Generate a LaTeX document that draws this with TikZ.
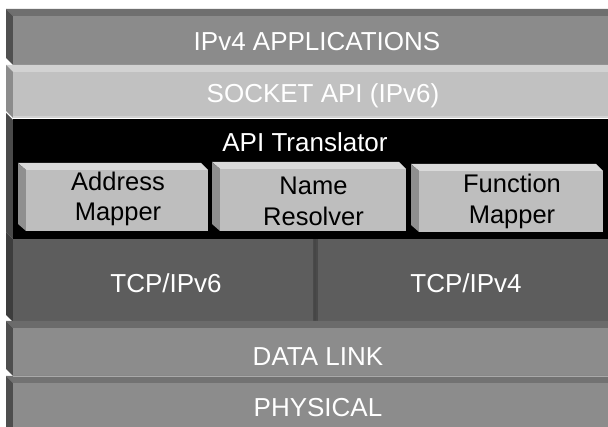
\documentclass[tikz,border=0pt]{standalone}
\usepackage{fontspec}
\setmainfont{Liberation Sans}
\definecolor{appfront}{HTML}{8B8B8B}
\definecolor{apptop}{HTML}{6F6F6F}
\definecolor{appside}{HTML}{505050}
\definecolor{sockfront}{HTML}{C1C1C1}
\definecolor{socktop}{HTML}{D2D2D2}
\definecolor{sockside}{HTML}{8C8C8C}
\definecolor{transside}{HTML}{4A4A4A}
\definecolor{tcpfront}{HTML}{5D5D5D}
\definecolor{tcpside}{HTML}{3D3D3D}
\definecolor{tcpline}{HTML}{4A4A4A}
\definecolor{linkfront}{HTML}{8C8C8C}
\definecolor{linktop}{HTML}{6B6B6B}
\definecolor{linkside}{HTML}{4E4E4E}
\definecolor{phystop}{HTML}{727272}
\definecolor{edgelight}{HTML}{A9A9A9}
\definecolor{keyfront}{HTML}{BEBEBE}
\definecolor{keytop}{HTML}{DADADA}
\definecolor{keyside}{HTML}{8F8F8F}
% one bevelled layer of the stack: front top, front bottom, front/top/side colours
\newcommand\stackslab[5]{%
  \fill[#4] (6,#1-7) -- (608,#1-7) -- (608,#1) -- (13,#1) -- cycle;
  \fill[#5] (6,#1-7) -- (13,#1) -- (13,#2) -- (6,#2-7) -- cycle;
  \fill[#3] (13,#1) rectangle (608,#2);
}
% one bevelled key inside the translator: x1, y1, x2, y2 of the outline
\newcommand\keyslab[4]{%
  \fill[keytop] (#1,#2) -- (#3-7,#2) -- (#3,#2+7) -- (#1+8,#2+7) -- cycle;
  \fill[keyside] (#1,#2) -- (#1+8,#2+7) -- (#1+8,#4) -- (#1,#4-7) -- cycle;
  \fill[keyfront] (#1+8,#2+7) rectangle (#3,#4);
}
\begin{document}
\begin{tikzpicture}[x=1pt,y=-1pt,
  layertext/.style={text=white,font=\fontsize{26}{30}\selectfont,anchor=base,inner sep=0pt},
  keytext/.style={text=black,font=\fontsize{25.5}{30.5}\selectfont,align=center,inner sep=0pt}]
\useasboundingbox (0,0) rectangle (608,427);
\fill[white] (0,0) rectangle (608,427);
\clip (0,0) rectangle (608,427);

% IPv4 applications
\stackslab{16}{65}{appfront}{apptop}{appside}
% socket API
\stackslab{72}{118}{sockfront}{socktop}{sockside}
\fill[socktop] (13,116.5) rectangle (608,118.5);
% API translator (black band)
\fill[transside] (6,113) -- (13,120) -- (13,239) -- (6,232) -- cycle;
\fill[black] (13,119) rectangle (608,239);
% TCP/IP band with divider
\fill[tcpside] (6,232) -- (13,239) -- (13,322) -- (6,315) -- cycle;
\fill[tcpfront] (13,239) rectangle (608,322);
\fill[tcpline] (313,239) rectangle (317.5,322);
\fill[tcpfront!75!black] (314.2,239) rectangle (315.8,322);
% data link
\stackslab{328}{376}{linkfront}{linktop}{linkside}
% physical
\stackslab{383}{440}{linkfront}{phystop}{linkside}
\fill[edgelight] (13,376) rectangle (608,377.5);

% translator keys
\keyslab{18}{163}{208}{231}
\keyslab{212}{162}{406}{231}
\keyslab{411}{164}{603}{232}

% labels
\node[layertext] (apps) at (317,51) {IPv4 APPLICATIONS};
\node[layertext] (sock) at (323,103) {SOCKET API (IPv6)};
\node[layertext] (trans) at (305,152) {API Translator};
\node[keytext] (addr) at (118,199) {Address\\Mapper};
\node[keytext] (name) at (313.5,201.5) {Name\\Resolver};
\node[keytext] (func) at (512,201.5) {Function\\Mapper};
\node[layertext] (tcp6) at (166,293) {TCP/IPv6};
\node[layertext] (tcp4) at (466,293) {TCP/IPv4};
\node[layertext] (link) at (318,366) {DATA LINK};
\node[layertext] (phys) at (318,417) {PHYSICAL};
\end{tikzpicture}
\end{document}
